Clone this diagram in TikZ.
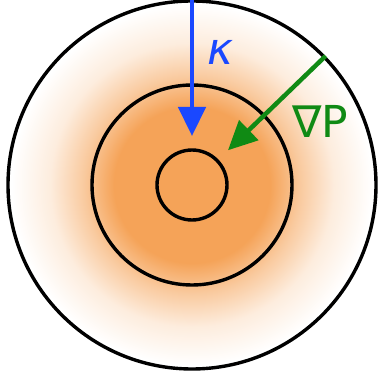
\documentclass[tikz,border=0pt]{standalone}
\usepackage{fontspec}
\setmainfont{DejaVu Sans}
\usetikzlibrary{arrows.meta,calc,positioning}
\definecolor{coreorange}{RGB}{245,163,88}
\definecolor{kblue}{RGB}{26,72,255}
\definecolor{pgreen}{RGB}{16,138,20}
% edge of the outer ring sits at about 27bp
\pgfdeclareradialshading{glow}{\pgfpoint{0bp}{0bp}}{%
  color(0bp)=(coreorange); color(10.6bp)=(coreorange);
  color(14.7bp)=(coreorange!58!white); color(19.3bp)=(coreorange!20!white);
  color(24.5bp)=(white); color(50bp)=(white)}
\tikzset{
  ring/.style  = {circle, draw=black, line width=3.4pt, inner sep=0pt},
  flux/.style  = {-{Triangle[length=29pt,width=27pt]}, line width=4.5pt},
  lbl/.style   = {inner sep=0pt, font=\fontsize{44}{44}\selectfont},
}
\begin{document}
\begin{tikzpicture}[x=1pt,y=1pt]
  \useasboundingbox (0,0) rectangle (381,373);
  \coordinate (c) at (192,188);
  \shade[shading=glow] (c) circle (184);
  \node[ring, minimum size=368pt] (outer) at (c) {};
  \node[ring, minimum size=200pt] (mid) at (c) {};
  \node[ring, minimum size=70pt] (core) at (c) {};
  \coordinate (ktip) at ($(c)+(90:49)$);
  \coordinate (ptip) at ($(c)+(44:50)$);
  \draw[flux, kblue] (outer.north) -- (ktip);
  \draw[flux, pgreen] (outer.44) -- (ptip);
  \node[lbl, text=kblue] (kappa) at ($(c)+(28,133)$) {\itshape κ};
  \node[lbl, text=pgreen] (gradp) at ($(c)+(128,64)$) {∇P};
\end{tikzpicture}
\end{document}
